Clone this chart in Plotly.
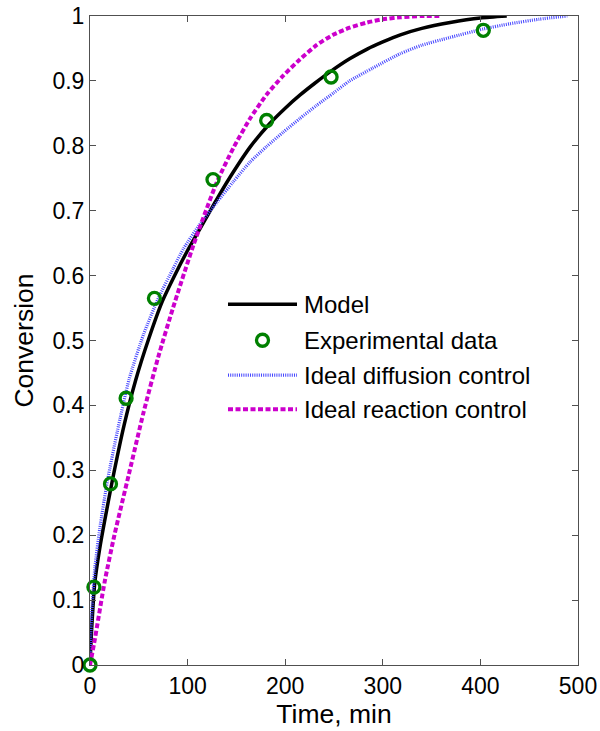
import plotly.graph_objects as go

# Experimental conversion data
t_exp = [0, 4, 21, 37, 66, 126, 181, 247, 403]
x_exp = [0, 0.12, 0.279, 0.411, 0.565, 0.748, 0.839, 0.906, 0.978]

# Model curve
t_model = [0, 1.5, 5, 10, 15, 23, 35, 47, 60, 74, 87, 99, 113, 130, 147, 164,
           184, 200, 215, 230, 247, 266, 284, 300, 318, 340, 369, 400, 427]
x_model = [0, 0.05, 0.128, 0.18, 0.222, 0.285, 0.37, 0.44, 0.502, 0.56, 0.601,
           0.636, 0.673, 0.718, 0.76, 0.798, 0.834, 0.858, 0.878, 0.896, 0.915,
           0.934, 0.949, 0.96, 0.971, 0.981, 0.99, 0.997, 1.0]

# Ideal diffusion control
t_diff = [0, 0.5, 2, 5, 10, 18, 28, 40, 55, 70, 85, 96, 113, 130, 147, 164,
          181, 198, 215, 232, 250, 266, 290, 318, 340, 369, 403, 430, 460, 489]
x_diff = [0, 0.035, 0.085, 0.15, 0.21, 0.285, 0.36, 0.44, 0.51, 0.565, 0.61,
          0.642, 0.68, 0.713, 0.745, 0.775, 0.799, 0.821, 0.842, 0.862, 0.882,
          0.9, 0.92, 0.942, 0.955, 0.967, 0.98, 0.988, 0.995, 1.0]

# Ideal reaction control
t_react = [0, 5, 15, 25, 40, 55, 70, 85, 106, 130, 147, 164, 181, 198, 215,
           232, 249, 266, 284, 300, 318, 340, 360]
x_react = [0, 0.04, 0.128, 0.2, 0.295, 0.39, 0.475, 0.55, 0.647, 0.744, 0.797,
           0.842, 0.879, 0.908, 0.933, 0.955, 0.971, 0.982, 0.99, 0.995, 0.998,
           1.0, 1.0]

x_ticks = [0, 100, 200, 300, 400, 500]
y_ticks = [0, 0.1, 0.2, 0.3, 0.4, 0.5, 0.6, 0.7, 0.8, 0.9, 1]
y_tick_text = ["0", "0.1", "0.2", "0.3", "0.4", "0.5", "0.6", "0.7", "0.8", "0.9", "1"]

legend_labels = ["Model", "Experimental data", "Ideal diffusion control",
                 "Ideal reaction control"]

BLACK = "black"
GREEN = "rgb(0,128,0)"
BLUE = "rgb(70,70,255)"
MAGENTA = "rgb(204,0,204)"
FONT = "Arial, Liberation Sans, sans-serif"

fig = go.Figure()
fig.add_trace(go.Scatter(x=t_model, y=x_model, mode="lines",
                         line=dict(color=BLACK, width=3.5, shape="spline", smoothing=0.6),
                         showlegend=False))
fig.add_trace(go.Scatter(x=t_diff, y=x_diff, mode="lines",
                         line=dict(color=BLUE, width=3.2, dash="1px,1.2px",
                                   shape="spline", smoothing=0.6),
                         showlegend=False))
fig.add_trace(go.Scatter(x=t_react, y=x_react, mode="lines",
                         line=dict(color=MAGENTA, width=4, dash="5px,2.5px",
                                   shape="spline", smoothing=0.6),
                         showlegend=False))
fig.add_trace(go.Scatter(x=t_exp, y=x_exp, mode="markers",
                         marker=dict(symbol="circle-open", size=12, color=GREEN,
                                     line=dict(color=GREEN, width=3.3)),
                         cliponaxis=False, showlegend=False))

# Legend drawn in plot-area (paper) coordinates
L, R, T, B = 90, 578, 15.5, 665
W, H = R - L, B - T


def px(xp):
    return (xp - L) / W


def py(yp):
    return (B - yp) / H


rows_y = [304, 340, 375, 409]
sample_x0, sample_x1, text_x = 228, 297, 302
shapes = []
shapes.append(dict(type="line", xref="paper", yref="paper",
                   x0=px(sample_x0), x1=px(sample_x1), y0=py(rows_y[0]), y1=py(rows_y[0]),
                   line=dict(color=BLACK, width=3.5)))
shapes.append(dict(type="circle", xref="paper", yref="paper",
                   xsizemode="pixel", ysizemode="pixel",
                   xanchor=px((sample_x0 + sample_x1) / 2), yanchor=py(rows_y[1]),
                   x0=-6, x1=6, y0=-6, y1=6,
                   line=dict(color=GREEN, width=3.3)))
shapes.append(dict(type="line", xref="paper", yref="paper",
                   x0=px(sample_x0), x1=px(sample_x1), y0=py(rows_y[2]), y1=py(rows_y[2]),
                   line=dict(color=BLUE, width=3.2, dash="1px,1.2px")))
shapes.append(dict(type="line", xref="paper", yref="paper",
                   x0=px(sample_x0), x1=px(sample_x1), y0=py(rows_y[3]), y1=py(rows_y[3]),
                   line=dict(color=MAGENTA, width=4, dash="5px,2.5px")))

annotations = []
for label, yy in zip(legend_labels, rows_y):
    annotations.append(dict(text=label, xref="paper", yref="paper",
                            x=px(text_x), y=py(yy), xanchor="left", yanchor="middle",
                            showarrow=False, font=dict(family=FONT, size=24, color="black")))

axis_common = dict(showline=True, linecolor="rgb(80,80,80)", linewidth=1,
                   mirror="ticks", ticks="inside", ticklen=6, tickwidth=1,
                   tickcolor="rgb(80,80,80)", showgrid=False, zeroline=False,
                   automargin=False,
                   tickfont=dict(family=FONT, size=23, color="black"))

fig.update_layout(
    width=600, height=731,
    margin=dict(l=L, r=600 - R, t=T, b=731 - B, autoexpand=False),
    paper_bgcolor="white", plot_bgcolor="white",
    xaxis=dict(range=[0, 500], tickvals=x_ticks, **axis_common,
               title=dict(text="Time, min", font=dict(family=FONT, size=26.5, color="black"),
                          standoff=5)),
    yaxis=dict(range=[0, 1], tickvals=y_ticks, ticktext=y_tick_text, **axis_common,
               title=dict(text="Conversion", font=dict(family=FONT, size=26.5, color="black"),
                          standoff=11)),
    shapes=shapes,
    annotations=annotations,
)

fig.write_html("out.html")
